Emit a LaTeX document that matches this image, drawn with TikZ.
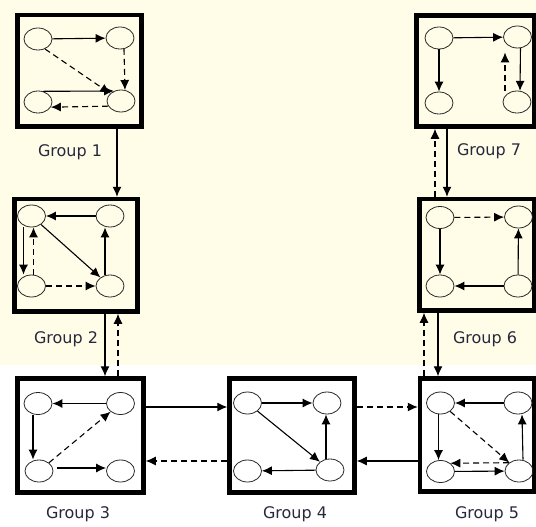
\documentclass[tikz,border=0pt]{standalone}
\usepackage{fontspec}
\setmainfont{DejaVu Sans}
\usetikzlibrary{arrows.meta,shapes.geometric}
\definecolor{cream}{RGB}{255,253,232}
\definecolor{labelc}{RGB}{40,40,60}
\tikzset{
  el/.style={ellipse,draw=black!85,line width=0.8pt,minimum width=28pt,minimum height=22pt,inner sep=0pt},
  gbox/.style={rectangle,draw=black,line width=4.5pt,inner sep=0pt},
  sol/.style={line width=1.1pt,-{Latex[length=10pt,width=9pt]}},
  das/.style={line width=1.1pt,dash pattern=on 6pt off 4pt,-{Latex[length=10pt,width=9pt]}},
  glabel/.style={font=\fontsize{16}{19}\selectfont,text=labelc,inner sep=0pt}
}
\begin{document}
\begin{tikzpicture}[x=1pt,y=-1pt]
\useasboundingbox (0,0) rectangle (536,527);
\fill[cream] (0,0) rectangle (536,365);
% group boxes
\node[gbox,minimum width=124pt,minimum height=111.5pt] (g1) at (79.5,70.75) {};
\node[gbox,minimum width=117.5pt,minimum height=111pt] (g7) at (475.25,71) {};
\node[gbox,minimum width=123pt,minimum height=112.5pt] (g2) at (76,255.25) {};
\node[gbox,minimum width=114.5pt,minimum height=111.5pt] (g6) at (476.75,254.75) {};
\node[gbox,minimum width=126pt,minimum height=114pt] (g3) at (80.5,435.5) {};
\node[gbox,minimum width=125pt,minimum height=114pt] (g4) at (292,435.5) {};
\node[gbox,minimum width=114pt,minimum height=113pt] (g5) at (477,435) {};
% labels
\node[glabel] (l1) at (70,152) {Group 1};
\node[glabel] (l7) at (489,151) {Group 7};
\node[glabel] (l2) at (66,339) {Group 2};
\node[glabel] (l6) at (485,339) {Group 6};
\node[glabel] (l3) at (78,514) {Group 3};
\node[glabel] (l4) at (295,514) {Group 4};
\node[glabel] (l5) at (487,514) {Group 5};
% group 1
\node[el] (a1) at (38,39) {};
\node[el] (b1) at (120,38) {};
\node[el] (c1) at (38,102) {};
\node[el] (d1) at (121,101) {};
\draw[sol] (a1) -- (b1);
\draw[das] (b1.-70) -- (d1.70);
\draw[das] (a1.-55) -- (d1.145);
\draw[sol] (c1.65) -- (d1.125);
\draw[das] (d1.202) -- (c1.-22);
% group 7
\node[el] (a7) at (439,38) {};
\node[el] (b7) at (517.5,37) {};
\node[el] (c7) at (439,103) {};
\node[el] (d7) at (517,102) {};
\draw[sol] (a7) -- (b7);
\draw[sol] (a7) -- (c7);
\draw[sol] (b7.-75) -- (d7.75);
\draw[das] ([xshift=-12pt]d7.north) -- ([xshift=-12.5pt,yshift=-4pt]b7.south);
% group 2
\node[el] (a2) at (31.5,216) {};
\node[el] (b2) at (110,216) {};
\node[el] (c2) at (31.5,286) {};
\node[el] (d2) at (110,286) {};
\draw[sol] (b2) -- (a2);
\draw[sol] (a2) -- (d2);
\draw[sol] ([xshift=-5pt]d2.north) -- ([xshift=-5pt]b2.south);
\draw[sol] ([xshift=-8pt]a2.south) -- ([xshift=-8pt]c2.north);
\draw[das] ([xshift=2pt]c2.north) -- ([xshift=2pt]a2.south);
\draw[das] (c2) -- (d2);
% group 6
\node[el] (a6) at (440,217.5) {};
\node[el] (b6) at (518.5,217) {};
\node[el] (c6) at (440,286) {};
\node[el] (d6) at (518,286) {};
\draw[das] (a6) -- (b6);
\draw[sol] (a6) -- (c6);
\draw[sol] (d6) -- (b6);
\draw[sol] (d6) -- (c6);
% group 3
\node[el] (a3) at (38,403.5) {};
\node[el] (b3) at (120.5,403.5) {};
\node[el] (c3) at (39,471) {};
\node[el] (d3) at (120.5,471) {};
\draw[sol] (b3) -- (a3);
\draw[sol] ([xshift=-5pt]a3.south) -- ([xshift=-6pt]c3.north);
\draw[das] (c3) -- (b3);
\draw[sol] ([yshift=3pt,xshift=4pt]c3.east) -- ([yshift=3pt]d3.west);
% group 4
\node[el] (a4) at (247.5,403) {};
\node[el] (b4) at (327,403) {};
\node[el] (c4) at (247.5,471) {};
\node[el] (d4) at (330,470) {};
\draw[sol] (a4) -- (b4);
\draw[sol] (a4) -- (d4);
\draw[sol] ([xshift=-4pt]d4.north) -- ([xshift=-1pt]b4.south);
\draw[sol] (d4) -- (c4);
% group 5
\node[el] (a5) at (440.5,403) {};
\node[el] (b5) at (518,403) {};
\node[el] (c5) at (440.5,471.5) {};
\node[el] (d5) at (519,471) {};
\draw[sol] (b5) -- (a5);
\draw[sol] ([xshift=-2pt]a5.south) -- ([xshift=-2pt]c5.north);
\draw[das] (a5) -- (d5);
\draw[sol] ([xshift=4pt]d5.north) -- ([xshift=4pt]b5.south);
\draw[das] (d5.140) -- (c5.40);
\draw[sol] (c5) -- (d5);
% connectors between groups
\draw[sol] ([xshift=37.5pt]g1.south) -- ([xshift=41pt]g2.north);
\draw[sol] ([xshift=29pt]g2.south) -- ([xshift=24.5pt]g3.north);
\draw[das] ([xshift=37.5pt]g3.north) -- ([xshift=42pt]g2.south);
\draw[sol] ([yshift=28.5pt]g3.east) -- ([yshift=28.5pt]g4.west);
\draw[das] ([yshift=-25.5pt]g4.west) -- ([yshift=-25.5pt]g3.east);
\draw[das] ([yshift=28.5pt]g4.east) -- ([yshift=28pt]g5.west);
\draw[sol] ([yshift=-26pt]g5.west) -- ([yshift=-25.5pt]g4.east);
\draw[sol] ([xshift=-38.75pt]g6.south) -- ([xshift=-39pt]g5.north);
\draw[das] ([xshift=-53pt]g5.north) -- ([xshift=-52.75pt]g6.south);
\draw[sol] ([xshift=-28.25pt]g7.south) -- ([xshift=-29.75pt]g6.north);
\draw[das] ([xshift=-41.75pt]g6.north) -- ([xshift=-40.25pt]g7.south);
\end{tikzpicture}
\end{document}
